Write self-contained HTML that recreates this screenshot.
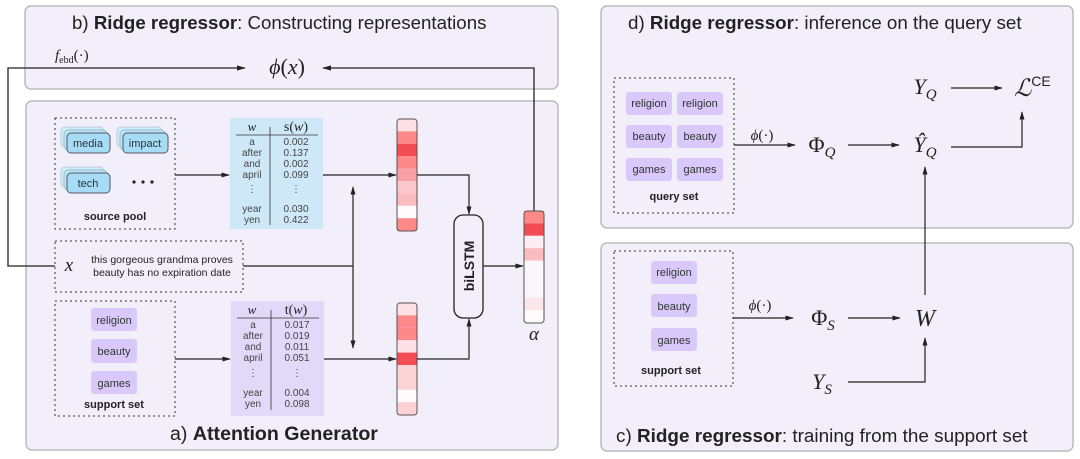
<!DOCTYPE html>
<html><head><meta charset="utf-8"><style>
html,body{margin:0;padding:0;background:#fff;}
svg{display:block;}
text{font-family:"Liberation Sans",sans-serif;fill:#222;}
.m{font-family:"Liberation Serif",serif;font-style:italic;}
.r{font-family:"Liberation Serif",serif;}
.t{font-size:10px;fill:#444;text-anchor:middle;}
.ch{font-size:11px;fill:#333;text-anchor:middle;}
</style></head><body>
<svg width="1080" height="459" viewBox="0 0 1080 459" xmlns="http://www.w3.org/2000/svg">
<defs>
<marker id="ah" viewBox="0 0 10 10" refX="9" refY="5" markerWidth="7" markerHeight="7" orient="auto-start-reverse"><path d="M0,2 L10,5 L0,8 z" fill="#222"/></marker>
</defs>
<g stroke="#bbb" stroke-width="1.5" fill="#f2effa">
<rect x="25" y="6" width="533" height="83" rx="6"/>
<rect x="26" y="101" width="532" height="349" rx="6"/>
<rect x="601" y="6" width="472" height="222" rx="6"/>
<rect x="601" y="243" width="472" height="208" rx="6"/>
</g>
<!-- b title -->
<text x="72" y="29" font-size="18.7">b) <tspan font-weight="bold">Ridge regressor</tspan>: Constructing representations</text>
<text x="55" y="60" class="m" font-size="15">f<tspan font-size="10" baseline-shift="-3" font-style="normal">ebd</tspan><tspan font-style="normal">(·)</tspan></text>
<text x="287" y="74" class="m" font-size="22" text-anchor="middle">ϕ<tspan font-style="normal">(</tspan>x<tspan font-style="normal">)</tspan></text>
<g stroke="#222" stroke-width="1.3" fill="none">
<polyline points="55,266 8,266 8,68 245,68" marker-end="url(#ah)"/>
<polyline points="534,211 534,68 323,68" marker-end="url(#ah)"/>
</g>
<!-- source pool -->
<rect x="55" y="118" width="120" height="111" fill="none" stroke="#333" stroke-dasharray="2,3"/>
<g stroke="#556" stroke-width="1">
<rect x="61" y="127" width="43" height="20" rx="4" fill="#cdeefa" stroke="#bcd"/>
<rect x="64" y="130" width="43" height="20" rx="4" fill="#bde6f8" stroke="#9bc"/>
<rect x="67" y="133" width="43" height="20" rx="4" fill="#a6dcf5"/>
<rect x="117" y="127" width="45" height="20" rx="4" fill="#cdeefa" stroke="#bcd"/>
<rect x="120" y="130" width="45" height="20" rx="4" fill="#bde6f8" stroke="#9bc"/>
<rect x="123" y="133" width="45" height="20" rx="4" fill="#a6dcf5"/>
<rect x="61" y="167" width="43" height="20" rx="4" fill="#cdeefa" stroke="#bcd"/>
<rect x="64" y="170" width="43" height="20" rx="4" fill="#bde6f8" stroke="#9bc"/>
<rect x="67" y="173" width="43" height="20" rx="4" fill="#a6dcf5"/>
</g>
<text x="88" y="147" class="ch">media</text>
<text x="145" y="147" class="ch">impact</text>
<text x="88" y="187" class="ch">tech</text>
<g fill="#222"><circle cx="134" cy="182" r="1.6"/><circle cx="143" cy="182" r="1.6"/><circle cx="152" cy="182" r="1.6"/></g>
<text x="115" y="220" font-size="11" font-weight="bold" text-anchor="middle">source pool</text>
<!-- tables -->
<rect x="230" y="118" width="93" height="111" fill="#cfe8f8"/>
<rect x="231" y="301" width="93" height="115" fill="#e1d9f7"/>
<g stroke="#333" stroke-width="0.8">
<line x1="236" y1="135" x2="318" y2="135"/><line x1="270" y1="127" x2="270" y2="225"/>
<line x1="237" y1="318" x2="319" y2="318"/><line x1="271" y1="310" x2="271" y2="410"/>
</g>
<text x="252" y="131" class="m" font-size="13" text-anchor="middle">w</text>
<text x="296" y="131" class="r" font-size="14" text-anchor="middle">s(<tspan font-style="italic">w</tspan>)</text>
<text x="252" y="314" class="m" font-size="13" text-anchor="middle">w</text>
<text x="296" y="314" class="r" font-size="14" text-anchor="middle">t(<tspan font-style="italic">w</tspan>)</text>
<g class="t">
<text x="252" y="145" class="t">a</text><text x="296" y="145" class="t">0.002</text>
<text x="252" y="156" class="t">after</text><text x="296" y="156" class="t">0.137</text>
<text x="252" y="167" class="t">and</text><text x="296" y="167" class="t">0.002</text>
<text x="252" y="178" class="t">april</text><text x="296" y="178" class="t">0.099</text>
<text x="252" y="192" class="t">⋮</text><text x="296" y="192" class="t">⋮</text>
<text x="252" y="212" class="t">year</text><text x="296" y="212" class="t">0.030</text>
<text x="252" y="223" class="t">yen</text><text x="296" y="223" class="t">0.422</text>
<text x="253" y="328" class="t">a</text><text x="297" y="328" class="t">0.017</text>
<text x="253" y="339" class="t">after</text><text x="297" y="339" class="t">0.019</text>
<text x="253" y="350" class="t">and</text><text x="297" y="350" class="t">0.011</text>
<text x="253" y="361" class="t">april</text><text x="297" y="361" class="t">0.051</text>
<text x="253" y="376" class="t">⋮</text><text x="297" y="376" class="t">⋮</text>
<text x="253" y="396" class="t">year</text><text x="297" y="396" class="t">0.004</text>
<text x="253" y="407" class="t">yen</text><text x="297" y="407" class="t">0.098</text>
</g>
<!-- x box -->
<rect x="55" y="241" width="188" height="51" fill="none" stroke="#333" stroke-dasharray="2,3"/>
<text x="69" y="271" class="m" font-size="19" text-anchor="middle">x</text>
<text x="162" y="263" font-size="10.5" fill="#444" text-anchor="middle">this gorgeous grandma proves</text>
<text x="162" y="276" font-size="10.5" fill="#444" text-anchor="middle">beauty has no expiration date</text>
<!-- support set -->
<rect x="55" y="301" width="120" height="115" fill="none" stroke="#333" stroke-dasharray="2,3"/>
<g fill="#d9c9fb"><rect x="91" y="308" width="46" height="23" rx="3"/><rect x="91" y="339" width="46" height="24" rx="3"/><rect x="91" y="371" width="46" height="23" rx="3"/></g>
<text x="114" y="324" class="ch">religion</text><text x="114" y="355" class="ch">beauty</text><text x="114" y="387" class="ch">games</text>
<text x="114" y="408" font-size="11" font-weight="bold" text-anchor="middle">support set</text>
<!-- bars -->
<g stroke="none">
<rect x="397" y="119" width="20" height="12.4" fill="#fde0e3"/><rect x="397" y="131.4" width="20" height="12.4" fill="#f88"/><rect x="397" y="143.8" width="20" height="12.4" fill="#f44c55"/><rect x="397" y="156.2" width="20" height="12.4" fill="#f88"/><rect x="397" y="168.6" width="20" height="12.4" fill="#f9a0a5"/><rect x="397" y="181" width="20" height="12.4" fill="#fcc8cb"/><rect x="397" y="193.4" width="20" height="12.4" fill="#fbbcc0"/><rect x="397" y="205.8" width="20" height="12.4" fill="#fdfafc"/><rect x="397" y="218.2" width="20" height="12.8" fill="#f88"/>
<rect x="397" y="303" width="20" height="12.4" fill="#fde0e3"/><rect x="397" y="315.4" width="20" height="12.4" fill="#f88"/><rect x="397" y="327.8" width="20" height="12.4" fill="#f88"/><rect x="397" y="340.2" width="20" height="12.4" fill="#fde0e3"/><rect x="397" y="352.6" width="20" height="12.4" fill="#f44c55"/><rect x="397" y="365" width="20" height="12.4" fill="#fcd2d5"/><rect x="397" y="377.4" width="20" height="12.4" fill="#fcd2d5"/><rect x="397" y="389.8" width="20" height="12.4" fill="#fdfafc"/><rect x="397" y="402.2" width="20" height="12.8" fill="#fcd2d5"/>
<rect x="524" y="211" width="20" height="12.4" fill="#f88"/><rect x="524" y="223.4" width="20" height="12.4" fill="#f44c55"/><rect x="524" y="235.8" width="20" height="12.4" fill="#fdeef1"/><rect x="524" y="248.2" width="20" height="12.4" fill="#fbbcc0"/><rect x="524" y="260.6" width="20" height="37" fill="#fbf6fa"/><rect x="524" y="297.8" width="20" height="12.4" fill="#fde6ea"/><rect x="524" y="310.2" width="20" height="12.8" fill="#fdfafc"/>
</g>
<g fill="none" stroke="#555" stroke-width="1">
<rect x="397" y="119" width="20" height="112" rx="3"/><rect x="397" y="303" width="20" height="112" rx="3"/><rect x="524" y="211" width="20" height="112" rx="3"/>
</g>
<text x="534" y="340" class="m" font-size="19" text-anchor="middle">α</text>
<rect x="454" y="215" width="29" height="103" rx="9" fill="#f2effa" stroke="#222" stroke-width="1.3"/>
<text transform="translate(474,266) rotate(-90)" font-size="14" font-weight="bold" text-anchor="middle">biLSTM</text>
<g stroke="#222" stroke-width="1.2" fill="none">
<line x1="175" y1="175" x2="229" y2="175" marker-end="url(#ah)"/>
<line x1="323" y1="175" x2="396" y2="175" marker-end="url(#ah)"/>
<polyline points="417,175 469,175 469,214" marker-end="url(#ah)"/>
<line x1="175" y1="359" x2="230" y2="359" marker-end="url(#ah)"/>
<line x1="324" y1="359" x2="396" y2="359" marker-end="url(#ah)"/>
<polyline points="417,359 469,359 469,319" marker-end="url(#ah)"/>
<line x1="243" y1="266" x2="353" y2="266"/>
<line x1="353" y1="187" x2="353" y2="348" marker-start="url(#ah)" marker-end="url(#ah)"/>
<line x1="483" y1="266" x2="523" y2="266" marker-end="url(#ah)"/>
</g>
<text x="170" y="440" font-size="19.6">a) <tspan font-weight="bold">Attention Generator</tspan></text>
<!-- d panel -->
<text x="628" y="29" font-size="18.8">d) <tspan font-weight="bold">Ridge regressor</tspan>: inference on the query set</text>
<rect x="614" y="78" width="120" height="135" fill="none" stroke="#333" stroke-dasharray="2,3"/>
<g fill="#d9c9fb">
<rect x="626" y="92" width="46" height="23" rx="3"/><rect x="677" y="92" width="46" height="23" rx="3"/>
<rect x="626" y="125" width="46" height="23" rx="3"/><rect x="677" y="125" width="46" height="23" rx="3"/>
<rect x="626" y="158" width="46" height="23" rx="3"/><rect x="677" y="158" width="46" height="23" rx="3"/>
</g>
<text x="649" y="107" class="ch">religion</text><text x="700" y="107" class="ch">religion</text>
<text x="649" y="140" class="ch">beauty</text><text x="700" y="140" class="ch">beauty</text>
<text x="649" y="173" class="ch">games</text><text x="700" y="173" class="ch">games</text>
<text x="674" y="200" font-size="11" font-weight="bold" text-anchor="middle">query set</text>
<text x="762" y="140" class="m" font-size="15" text-anchor="middle">ϕ<tspan font-style="normal">(·)</tspan></text>
<text x="822" y="152" class="r" font-size="22" text-anchor="middle">Φ<tspan class="m" font-size="15" dy="5">Q</tspan></text>
<text x="925" y="152" class="m" font-size="22" text-anchor="middle">Ŷ<tspan font-size="15" dy="5">Q</tspan></text>
<text x="925" y="94" class="m" font-size="22" text-anchor="middle">Y<tspan font-size="15" dy="5">Q</tspan></text>
<text x="1014" y="96" font-family="Liberation Serif,serif" font-style="italic" font-size="24">ℒ<tspan font-style="normal" font-size="14" dy="-10">CE</tspan></text>
<g stroke="#222" stroke-width="1.2" fill="none">
<line x1="734" y1="145" x2="795" y2="145" marker-end="url(#ah)"/>
<line x1="848" y1="145" x2="899" y2="145" marker-end="url(#ah)"/>
<line x1="951" y1="88" x2="1002" y2="88" marker-end="url(#ah)"/>
<polyline points="951,147 1022,147 1022,112" marker-end="url(#ah)"/>
<line x1="925" y1="295" x2="925" y2="167" marker-end="url(#ah)"/>
<line x1="733" y1="318" x2="793" y2="318" marker-end="url(#ah)"/>
<line x1="848" y1="318" x2="900" y2="318" marker-end="url(#ah)"/>
<polyline points="848,382 925,382 925,338" marker-end="url(#ah)"/>
</g>
<!-- c panel -->
<rect x="614" y="251" width="119" height="135" fill="none" stroke="#333" stroke-dasharray="2,3"/>
<g fill="#d9c9fb"><rect x="651" y="261" width="46" height="23" rx="3"/><rect x="651" y="294" width="46" height="23" rx="3"/><rect x="651" y="328" width="46" height="23" rx="3"/></g>
<text x="674" y="276" class="ch">religion</text><text x="674" y="310" class="ch">beauty</text><text x="674" y="344" class="ch">games</text>
<text x="671" y="374" font-size="11" font-weight="bold" text-anchor="middle">support set</text>
<text x="760" y="310" class="m" font-size="15" text-anchor="middle">ϕ<tspan font-style="normal">(·)</tspan></text>
<text x="823" y="325" class="r" font-size="22" text-anchor="middle">Φ<tspan class="m" font-size="15" dy="5">S</tspan></text>
<text x="925" y="326" class="m" font-size="24" text-anchor="middle">W</text>
<text x="822" y="389" class="m" font-size="22" text-anchor="middle">Y<tspan font-size="15" dy="5">S</tspan></text>
<text x="616" y="442" font-size="18.9">c) <tspan font-weight="bold">Ridge regressor</tspan>: training from the support set</text>
</svg>
</body></html>
